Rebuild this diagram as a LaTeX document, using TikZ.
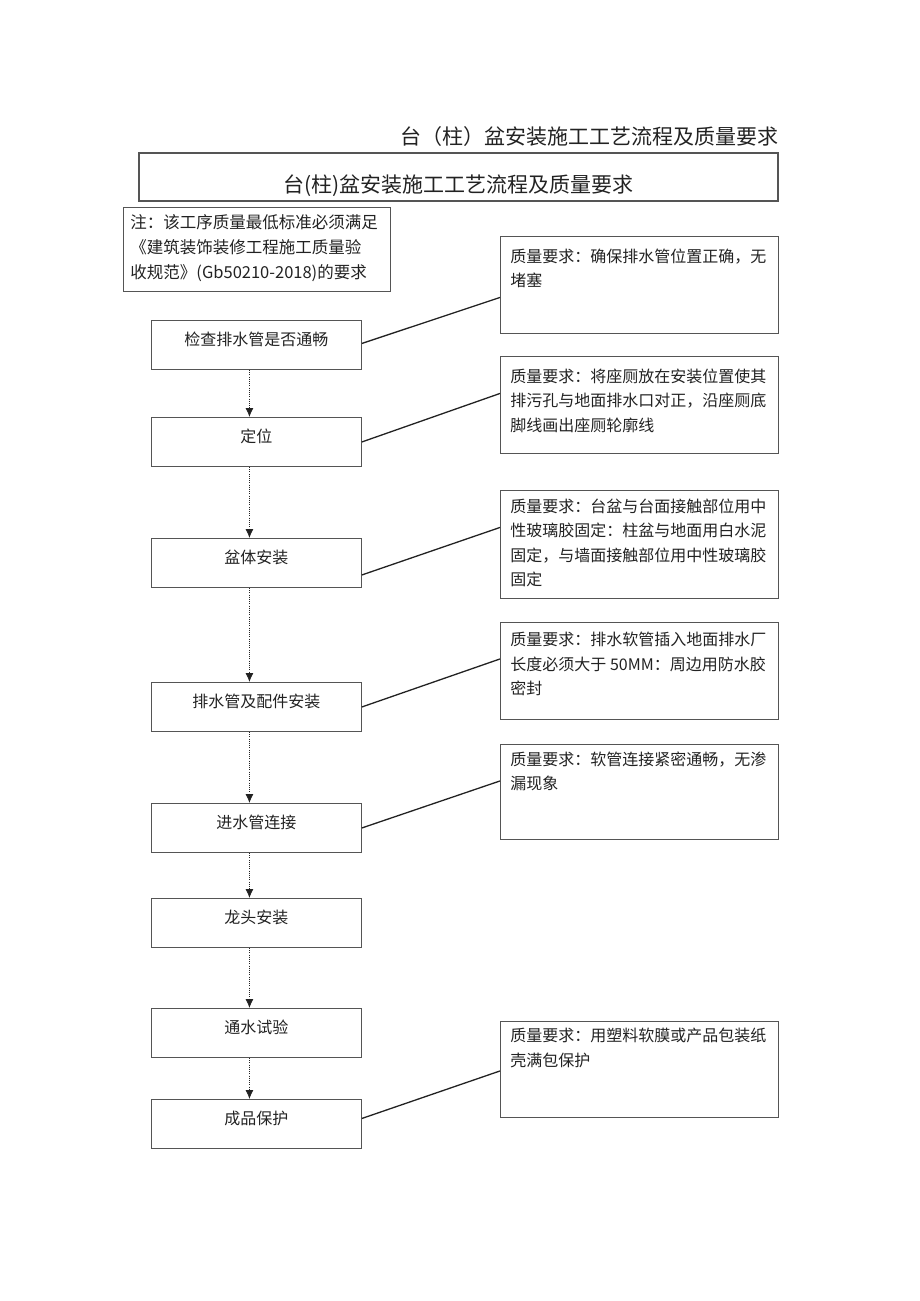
\documentclass[tikz,border=0pt]{standalone}
\usepackage{fontspec}
\setmainfont{Noto Sans CJK SC}
\usetikzlibrary{arrows.meta}
\definecolor{ink}{HTML}{222222}
\definecolor{frame}{HTML}{555555}
\newcommand{\qtxt}[4]{\parbox[c][#2][t]{#3}{\vspace*{#1}\raggedright #4}}
\tikzset{
  stepbox/.style={draw=frame, line width=0.9pt, minimum width=210pt, minimum height=49pt,
    inner sep=0pt, anchor=north west, text=ink, text height=12pt, text depth=10pt,
    font=\fontsize{16}{16}\selectfont},
  qbox/.style={draw=frame, line width=0.9pt, inner xsep=10pt, inner ysep=0pt, anchor=north west,
    text=ink, font=\fontsize{16}{24.5}\selectfont},
  notebox/.style={draw=frame, line width=0.9pt, inner xsep=7pt, inner ysep=0pt, anchor=north west,
    text=ink, font=\fontsize{16.5}{25}\selectfont},
  flow/.style={draw=ink, line width=0.8pt, dash pattern=on 1pt off 1.2pt,
    -{Latex[length=9pt,width=8pt]}},
  link/.style={draw=ink, line width=1.3pt}
}
\begin{document}
\begin{tikzpicture}[x=1pt,y=-1pt]
\useasboundingbox (0,0) rectangle (920,1301);
% page title
\node[anchor=east, text=ink, font=\fontsize{21}{21}\selectfont, inner sep=0pt] (ptitle) at (779,137) {台（柱）盆安装施工工艺流程及质量要求};
% title box
\node[draw=frame, line width=2.2pt, minimum width=639pt, minimum height=48pt, inner sep=0pt,
  anchor=north west, text=ink, text height=34pt, text depth=4pt,
  font=\fontsize{21}{21}\selectfont] (tbox) at (138,152) {台(柱)盆安装施工工艺流程及质量要求};
% note
\node[notebox] (note) at (123,207) {\qtxt{7pt}{84pt}{253pt}{注：该工序质量最低标准必须满足\\《建筑装饰装修工程施工质量验\\收规范》(Gb50210-2018)的要求}};
% steps
\node[stepbox] (s1) at (151,320) {检查排水管是否通畅};
\node[stepbox] (s2) at (151,417) {定位};
\node[stepbox] (s3) at (151,538) {盆体安装};
\node[stepbox] (s4) at (151,682) {排水管及配件安装};
\node[stepbox] (s5) at (151,803) {进水管连接};
\node[stepbox] (s6) at (151,898) {龙头安装};
\node[stepbox] (s7) at (151,1008) {通水试验};
\node[stepbox] (s8) at (151,1099) {成品保护};
% quality boxes
\node[qbox] (q1) at (500,236) {\qtxt{12pt}{97pt}{258pt}{质量要求：确保排水管位置正确，无\\堵塞}};
\node[qbox] (q2) at (500,356) {\qtxt{12pt}{97pt}{258pt}{质量要求：将座厕放在安装位置使其\\排污孔与地面排水口对正，沿座厕底\\脚线画出座厕轮廓线}};
\node[qbox] (q3) at (500,490) {\qtxt{8pt}{108pt}{258pt}{质量要求：台盆与台面接触部位用中\\性玻璃胶固定：柱盆与地面用白水泥\\固定，与墙面接触部位用中性玻璃胶\\固定}};
\node[qbox] (q4) at (500,622) {\qtxt{10pt}{97pt}{258pt}{质量要求：排水软管插入地面排水厂\\长度必须大于 50MM：周边用防水胶\\密封}};
\node[qbox] (q5) at (500,744) {\qtxt{7pt}{95pt}{258pt}{质量要求：软管连接紧密通畅，无渗\\漏现象}};
\node[qbox] (q7) at (500,1021) {\qtxt{7pt}{96pt}{258pt}{质量要求：用塑料软膜或产品包装纸\\壳满包保护}};
% flow arrows
\foreach \a/\b in {s1/s2,s2/s3,s3/s4,s4/s5,s5/s6,s6/s7,s7/s8}
  \draw[flow] ([xshift=-7pt]\a.south) -- ([xshift=-7pt]\b.north);
% links
\draw[link] ([yshift=1.5pt]s1.east) -- ([yshift=-12.5pt]q1.west);
\draw[link] (s2.east) -- ([yshift=11.5pt]q2.west);
\draw[link] ([yshift=-12pt]s3.east) -- ([yshift=17pt]q3.west);
\draw[link] (s4.east) -- ([yshift=12pt]q4.west);
\draw[link] (s5.east) -- ([yshift=11pt]q5.west);
\draw[link] ([yshift=5.5pt]s8.east) -- ([yshift=-1.5pt]q7.west);
\end{tikzpicture}
\end{document}
